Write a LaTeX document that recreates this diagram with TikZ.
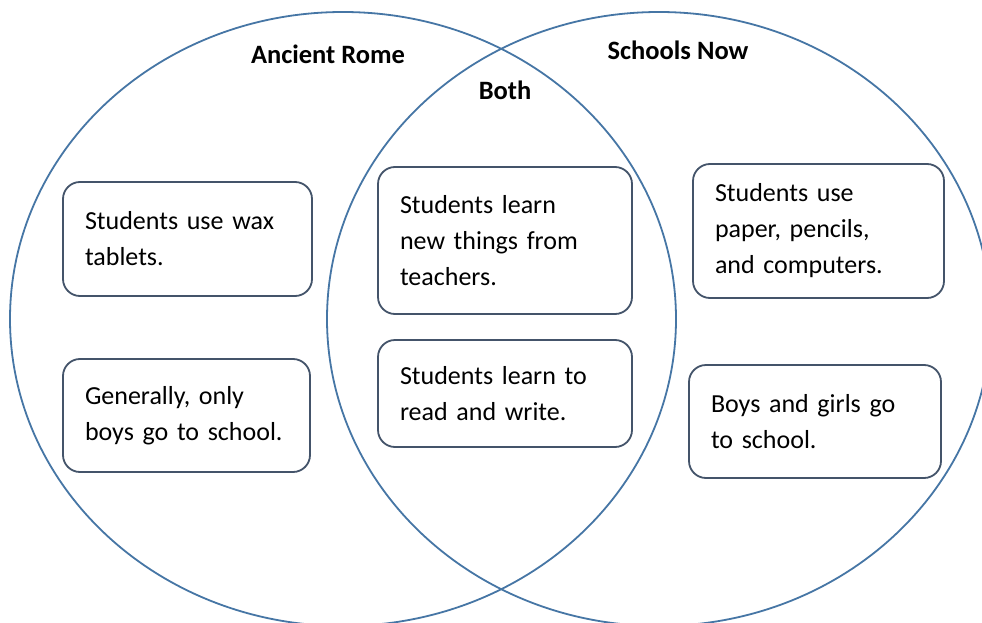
\documentclass[tikz,border=0pt]{standalone}
\usepackage{fontspec}
\setmainfont{Carlito}
\definecolor{ringblue}{RGB}{70,118,165}
\definecolor{boxline}{RGB}{68,84,106}
\begin{document}
\begin{tikzpicture}
[x=1pt,y=-1pt,
ring/.style={draw=ringblue,line width=1.8pt},
heading/.style={font=\fontsize{26.5}{30}\selectfont\bfseries},
fact/.style={draw=boxline,line width=1.8pt,rounded corners=17pt,align=left,
  inner xsep=22pt,inner ysep=0pt,text width=#1,
  font=\fontsize{26}{36}\selectfont}]
\clip (0,0) rectangle (982,623);
\fill[white] (0,0) rectangle (982,623);
\draw[ring] (343,319) ellipse [x radius=333pt,y radius=307pt];
\draw[ring] (659,319) ellipse [x radius=332pt,y radius=307pt];
\node[heading] (rome) at (328,54) {Ancient Rome};
\node[heading] (now) at (678,50) {Schools Now};
\node[heading] (both) at (505,90) {Both};
\node[fact=205pt,minimum height=114pt] (wax) at (187.5,239)
  {Students use wax\\tablets.};
\node[fact=203pt,minimum height=113pt] (boys) at (186.5,415.5)
  {Generally, only\\boys go to school.};
\node[fact=210pt,minimum height=147pt] (learn) at (505,240.5)
  {Students learn\\new things from\\teachers.};
\node[fact=210pt,minimum height=107pt] (read) at (505,393.5)
  {Students learn to\\read and write.};
\node[fact=207pt,minimum height=134pt] (paper) at (818.5,231)
  {Students use\\paper, pencils,\\and computers.};
\node[fact=208pt,minimum height=113pt] (girls) at (815,421.5)
  {Boys and girls go\\to school.};
\end{tikzpicture}
\end{document}
